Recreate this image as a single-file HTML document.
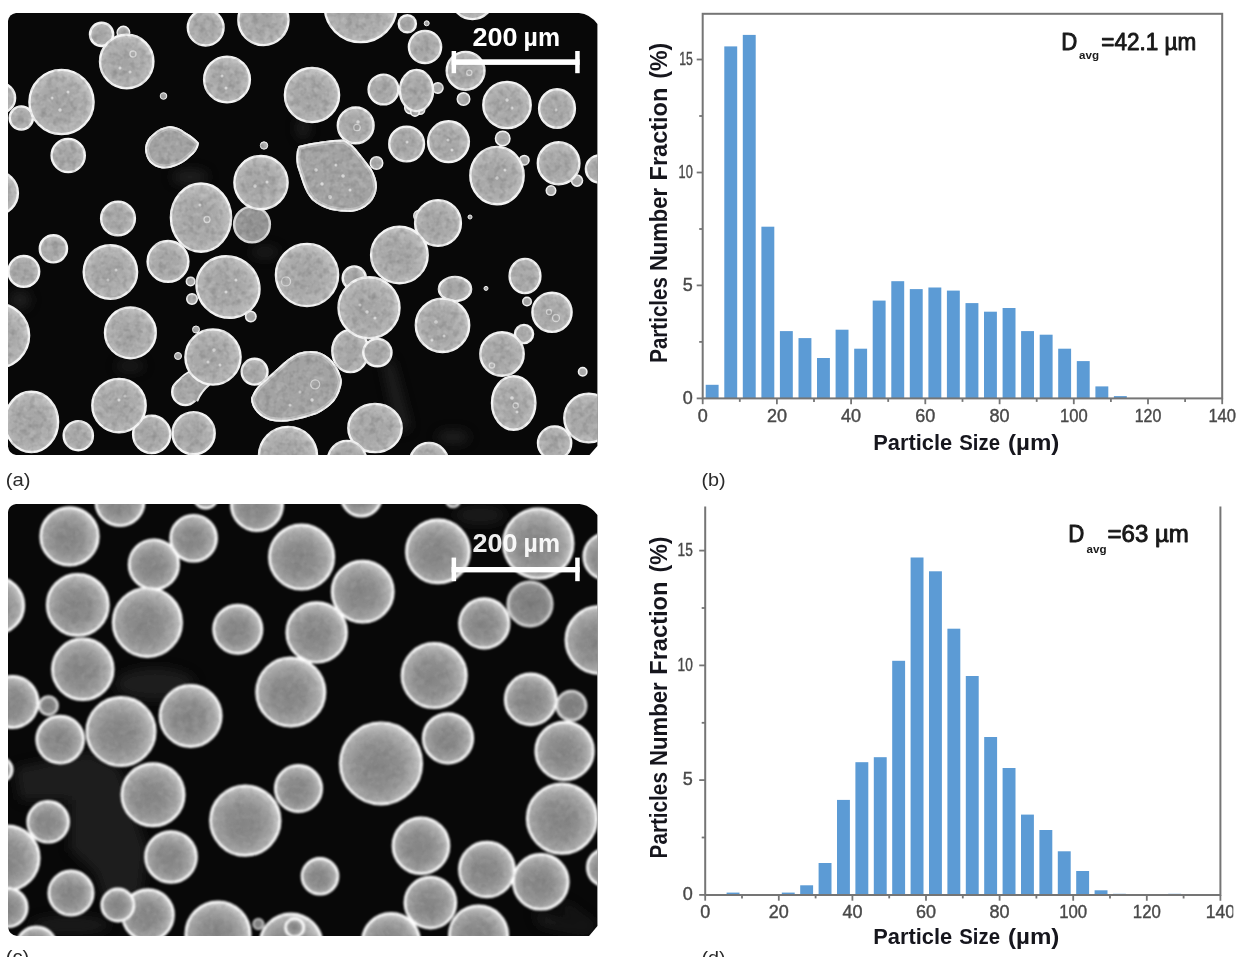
<!DOCTYPE html>
<html lang="en">
<head>
<meta charset="utf-8">
<title>Particle size distribution</title>
<style>
html,body{margin:0;padding:0;background:#fff;}
body{width:1241px;height:957px;overflow:hidden;}
svg{display:block;}
text{font-family:"Liberation Sans",sans-serif;}
.tk{font-size:18px;fill:#484848;stroke:#484848;stroke-width:0.4px;}
.ax{font-size:22.5px;font-weight:700;fill:#15151f;}
.ay{font-size:23px;font-weight:700;fill:#15151f;}
.dv{font-size:23px;fill:#1a1a1a;stroke:#1a1a1a;stroke-width:0.9px;stroke-linejoin:round;}
.sub{font-size:10.5px;font-weight:700;fill:#1a1a1a;}
.sb{font-size:25px;font-weight:700;fill:#fff;}
.pl{font-size:17.5px;fill:#2a2a2a;}
</style>
</head>
<body>
<svg width="1241" height="957" viewBox="0 0 1241 957">
<defs>
<radialGradient id="ga" cx="0.47" cy="0.53" r="0.56">
<stop offset="0" stop-color="#a3a3a3"/><stop offset="0.55" stop-color="#aaaaaa"/><stop offset="0.82" stop-color="#b9b9b9"/><stop offset="0.93" stop-color="#cccccc"/><stop offset="1" stop-color="#e4e4e4"/>
</radialGradient>
<radialGradient id="gad" cx="0.5" cy="0.5" r="0.55">
<stop offset="0" stop-color="#8e8e8e"/><stop offset="0.8" stop-color="#989898"/><stop offset="1" stop-color="#b4b4b4"/>
</radialGradient>
<radialGradient id="gc" cx="0.46" cy="0.54" r="0.57">
<stop offset="0" stop-color="#848484"/><stop offset="0.45" stop-color="#8e8e8e"/><stop offset="0.75" stop-color="#a8a8a8"/><stop offset="0.9" stop-color="#c6c6c6"/><stop offset="1" stop-color="#ececec"/>
</radialGradient>
<radialGradient id="gcd" cx="0.5" cy="0.5" r="0.55">
<stop offset="0" stop-color="#7c7c7c"/><stop offset="0.7" stop-color="#888888"/><stop offset="1" stop-color="#b0b0b0"/>
</radialGradient>
<clipPath id="ca"><path d="M8,21 Q9,14 16,13 H579 Q590,14 597.4,24 V446 L589.5,455 H16 Q9,454 8,446.5 Z"/></clipPath>
<clipPath id="cc"><path d="M8,512 Q9,505 16,504 H579.5 Q590,505 597.4,515 V926 L589,936 H17 Q9,935 8,927 Z"/></clipPath>
<clipPath id="cp"><rect x="0" y="0" width="1233.3" height="957"/></clipPath>
<filter id="bl" x="-2%" y="-2%" width="104%" height="104%" color-interpolation-filters="sRGB"><feGaussianBlur in="SourceGraphic" stdDeviation="0.75" result="b"/><feTurbulence type="fractalNoise" baseFrequency="0.17" numOctaves="2" seed="7" result="t"/><feColorMatrix in="t" type="matrix" values="0 0 0 0 1  0 0 0 0 1  0 0 0 0 1  0.4 0 0 0 -0.18" result="nw"/><feComposite in="nw" in2="b" operator="in" result="nwi"/><feColorMatrix in="t" type="matrix" values="0 0 0 0 0.15  0 0 0 0 0.15  0 0 0 0 0.15  0 0.4 0 0 -0.18" result="nd"/><feComposite in="nd" in2="b" operator="in" result="ndi"/><feMerge><feMergeNode in="b"/><feMergeNode in="nwi"/><feMergeNode in="ndi"/></feMerge></filter>
<filter id="blc" x="-2%" y="-2%" width="104%" height="104%" color-interpolation-filters="sRGB"><feGaussianBlur in="SourceGraphic" stdDeviation="0.85" result="b"/><feTurbulence type="fractalNoise" baseFrequency="0.14" numOctaves="2" seed="11" result="t"/><feColorMatrix in="t" type="matrix" values="0 0 0 0 1  0 0 0 0 1  0 0 0 0 1  0.2 0 0 0 -0.09" result="nw"/><feComposite in="nw" in2="b" operator="in" result="nwi"/><feColorMatrix in="t" type="matrix" values="0 0 0 0 0.15  0 0 0 0 0.15  0 0 0 0 0.15  0 0.2 0 0 -0.09" result="nd"/><feComposite in="nd" in2="b" operator="in" result="ndi"/><feMerge><feMergeNode in="b"/><feMergeNode in="nwi"/><feMergeNode in="ndi"/></feMerge></filter>
<filter id="bl2" x="-5%" y="-20%" width="110%" height="140%"><feGaussianBlur stdDeviation="0.5"/></filter>
<filter id="hz" x="-10%" y="-10%" width="120%" height="120%"><feGaussianBlur stdDeviation="6"/></filter>
<filter id="bl3" x="-2%" y="-2%" width="104%" height="104%"><feGaussianBlur stdDeviation="0.45"/></filter>
</defs>
<rect width="1241" height="957" fill="#fff"/>
<g clip-path="url(#ca)"><rect x="0" y="0" width="620" height="470" fill="#080808"/>
<g filter="url(#hz)" fill="#2a2a2a" opacity="0.8"><path d="M383,362 L392,360 L410,428 L398,432 Z"/><ellipse cx="453" cy="437" rx="16" ry="6"/><ellipse cx="20" cy="300" rx="10" ry="9"/><ellipse cx="190" cy="177" rx="18" ry="7"/><ellipse cx="303" cy="128" rx="6" ry="11"/><ellipse cx="265" cy="252" rx="14" ry="5"/><ellipse cx="130" cy="366" rx="14" ry="5"/></g>
<g filter="url(#bl)">
<circle cx="252" cy="224.5" r="17.9" fill="url(#gad)" stroke="#d8d8d8" stroke-width="2.4"/>
<circle cx="101.6" cy="34.4" r="11.6" fill="url(#ga)" stroke="#f4f4f4" stroke-width="2.4"/>
<circle cx="123.4" cy="32.6" r="6.25" fill="url(#ga)" stroke="#f4f4f4" stroke-width="1.5"/>
<circle cx="126.7" cy="61.5" r="26.7" fill="url(#ga)" stroke="#f4f4f4" stroke-width="2.4"/>
<circle cx="205.7" cy="27.6" r="17.9" fill="url(#ga)" stroke="#f4f4f4" stroke-width="2.4"/>
<circle cx="263.4" cy="20" r="25.1" fill="url(#ga)" stroke="#f4f4f4" stroke-width="2.4"/>
<circle cx="0" cy="98" r="15.1" fill="url(#ga)" stroke="#f4f4f4" stroke-width="2.4"/>
<circle cx="21.3" cy="118" r="11.6" fill="url(#ga)" stroke="#f4f4f4" stroke-width="2.4"/>
<circle cx="61.5" cy="102" r="32.1" fill="url(#ga)" stroke="#f4f4f4" stroke-width="2.4"/>
<circle cx="227" cy="79.5" r="22.9" fill="url(#ga)" stroke="#f4f4f4" stroke-width="2.4"/>
<circle cx="163.5" cy="96" r="3.3" fill="url(#ga)" stroke="#f4f4f4" stroke-width="1"/>
<circle cx="312" cy="95" r="27.1" fill="url(#ga)" stroke="#f4f4f4" stroke-width="2.4"/>
<circle cx="68.2" cy="155.5" r="16.6" fill="url(#ga)" stroke="#f4f4f4" stroke-width="2.4"/>
<circle cx="264" cy="145.5" r="3.7" fill="url(#ga)" stroke="#f4f4f4" stroke-width="1"/>
<circle cx="261" cy="182.6" r="26.6" fill="url(#ga)" stroke="#f4f4f4" stroke-width="2.4"/>
<circle cx="118" cy="218.5" r="16.9" fill="url(#ga)" stroke="#f4f4f4" stroke-width="2.4"/>
<ellipse cx="201" cy="217.6" rx="30.1" ry="34.1" fill="url(#ga)" stroke="#f4f4f4" stroke-width="2.4"/>
<circle cx="-3.8" cy="193" r="21.7" fill="url(#ga)" stroke="#f4f4f4" stroke-width="2.4"/>
<circle cx="360.7" cy="6" r="36.1" fill="url(#ga)" stroke="#f4f4f4" stroke-width="2.4"/>
<circle cx="407.3" cy="23.8" r="8.6" fill="url(#ga)" stroke="#f4f4f4" stroke-width="2.4"/>
<circle cx="426.7" cy="23.3" r="2.5" fill="url(#ga)" stroke="#f4f4f4" stroke-width="1"/>
<circle cx="472.5" cy="-2" r="21.1" fill="url(#ga)" stroke="#f4f4f4" stroke-width="2.4"/>
<circle cx="425" cy="47" r="16.1" fill="url(#ga)" stroke="#f4f4f4" stroke-width="2.4"/>
<circle cx="465.6" cy="70.8" r="18.9" fill="url(#ga)" stroke="#f4f4f4" stroke-width="2.4"/>
<circle cx="463.5" cy="99" r="6.25" fill="url(#ga)" stroke="#f4f4f4" stroke-width="1.5"/>
<circle cx="383.5" cy="89.5" r="14.9" fill="url(#ga)" stroke="#f4f4f4" stroke-width="2.4"/>
<circle cx="410.5" cy="108" r="5.75" fill="url(#ga)" stroke="#f4f4f4" stroke-width="1.5"/>
<circle cx="420" cy="109.5" r="4.75" fill="url(#ga)" stroke="#f4f4f4" stroke-width="1.5"/>
<circle cx="415" cy="112" r="4.25" fill="url(#ga)" stroke="#f4f4f4" stroke-width="1.5"/>
<circle cx="437.8" cy="88" r="5.25" fill="url(#ga)" stroke="#f4f4f4" stroke-width="1.5"/>
<ellipse cx="416.5" cy="90.5" rx="16.6" ry="20.6" fill="url(#ga)" stroke="#f4f4f4" stroke-width="2.4"/>
<circle cx="355.7" cy="125.4" r="17.9" fill="url(#ga)" stroke="#f4f4f4" stroke-width="2.4"/>
<circle cx="406.6" cy="144" r="17.4" fill="url(#ga)" stroke="#f4f4f4" stroke-width="2.4"/>
<circle cx="448.5" cy="141.7" r="20.4" fill="url(#ga)" stroke="#f4f4f4" stroke-width="2.4"/>
<ellipse cx="507" cy="105" rx="23.7" ry="23.1" fill="url(#ga)" stroke="#f4f4f4" stroke-width="2.4"/>
<ellipse cx="557" cy="108.5" rx="17.9" ry="19.3" fill="url(#ga)" stroke="#f4f4f4" stroke-width="2.4"/>
<circle cx="502.7" cy="138.5" r="7.25" fill="url(#ga)" stroke="#f4f4f4" stroke-width="1.5"/>
<circle cx="524.3" cy="160.2" r="4.75" fill="url(#ga)" stroke="#f4f4f4" stroke-width="1.5"/>
<ellipse cx="497" cy="175.6" rx="26.7" ry="28.7" fill="url(#ga)" stroke="#f4f4f4" stroke-width="2.4"/>
<circle cx="577" cy="180.6" r="5.55" fill="url(#ga)" stroke="#f4f4f4" stroke-width="1.5"/>
<circle cx="551" cy="190.6" r="4.75" fill="url(#ga)" stroke="#f4f4f4" stroke-width="1.5"/>
<ellipse cx="558.6" cy="163.3" rx="20.8" ry="21" fill="url(#ga)" stroke="#f4f4f4" stroke-width="2.4"/>
<circle cx="599.5" cy="169" r="13.6" fill="url(#ga)" stroke="#f4f4f4" stroke-width="2.4"/>
<circle cx="376.5" cy="163" r="6.25" fill="url(#ga)" stroke="#f4f4f4" stroke-width="1.5"/>
<circle cx="419" cy="215.7" r="5.25" fill="url(#ga)" stroke="#f4f4f4" stroke-width="1.5"/>
<circle cx="438" cy="223" r="22.9" fill="url(#ga)" stroke="#f4f4f4" stroke-width="2.4"/>
<circle cx="470" cy="217" r="2" fill="url(#ga)" stroke="#f4f4f4" stroke-width="1"/>
<circle cx="53.4" cy="248.8" r="13.6" fill="url(#ga)" stroke="#f4f4f4" stroke-width="2.4"/>
<circle cx="23.8" cy="271.4" r="15.4" fill="url(#ga)" stroke="#f4f4f4" stroke-width="2.4"/>
<circle cx="110.4" cy="272" r="26.7" fill="url(#ga)" stroke="#f4f4f4" stroke-width="2.4"/>
<circle cx="168" cy="261.4" r="20.4" fill="url(#ga)" stroke="#f4f4f4" stroke-width="2.4"/>
<circle cx="192" cy="299" r="5.25" fill="url(#ga)" stroke="#f4f4f4" stroke-width="1.5"/>
<circle cx="190.6" cy="281.4" r="4.25" fill="url(#ga)" stroke="#f4f4f4" stroke-width="1.5"/>
<circle cx="250.8" cy="316.5" r="5.25" fill="url(#ga)" stroke="#f4f4f4" stroke-width="1.5"/>
<ellipse cx="228" cy="287" rx="32.1" ry="30.1" fill="url(#ga)" stroke="#f4f4f4" stroke-width="2.4" transform="rotate(35 228 287)"/>
<circle cx="-3" cy="335.6" r="32.1" fill="url(#ga)" stroke="#f4f4f4" stroke-width="2.4"/>
<circle cx="130.4" cy="332.8" r="25.4" fill="url(#ga)" stroke="#f4f4f4" stroke-width="2.4"/>
<circle cx="185.3" cy="392" r="13.1" fill="url(#ga)" stroke="#f4f4f4" stroke-width="2.4"/>
<path d="M189,372 L173.5,386 L196,401.5 L209,384 Z" fill="#a8a8a8"/><path d="M189.5,371.5 Q180,377 173.2,386.5 M197.5,400.5 Q201,392 209.5,384.5" fill="none" stroke="#f0f0f0" stroke-width="2" stroke-linecap="round"/>
<circle cx="196" cy="329.5" r="3.5" fill="url(#ga)" stroke="#f4f4f4" stroke-width="1"/>
<circle cx="178" cy="356" r="3.5" fill="url(#ga)" stroke="#f4f4f4" stroke-width="1"/>
<circle cx="213" cy="357" r="27.6" fill="url(#ga)" stroke="#f4f4f4" stroke-width="2.4"/>
<circle cx="254.6" cy="371.7" r="12.9" fill="url(#ga)" stroke="#f4f4f4" stroke-width="2.4"/>
<ellipse cx="31.4" cy="421.9" rx="26.7" ry="30.1" fill="url(#ga)" stroke="#f4f4f4" stroke-width="2.4"/>
<circle cx="151.7" cy="434.4" r="18.6" fill="url(#ga)" stroke="#f4f4f4" stroke-width="2.4"/>
<circle cx="119" cy="405.6" r="26.7" fill="url(#ga)" stroke="#f4f4f4" stroke-width="2.4"/>
<circle cx="78.3" cy="435.7" r="14.6" fill="url(#ga)" stroke="#f4f4f4" stroke-width="2.4"/>
<circle cx="193.6" cy="433.2" r="21.1" fill="url(#ga)" stroke="#f4f4f4" stroke-width="2.4"/>
<circle cx="288" cy="456" r="29.1" fill="url(#ga)" stroke="#f4f4f4" stroke-width="2.4"/>
<circle cx="354.3" cy="278" r="11.6" fill="url(#ga)" stroke="#f4f4f4" stroke-width="2.4"/>
<circle cx="307" cy="275" r="31.1" fill="url(#ga)" stroke="#f4f4f4" stroke-width="2.4"/>
<circle cx="399.4" cy="255" r="28.3" fill="url(#ga)" stroke="#f4f4f4" stroke-width="2.4"/>
<ellipse cx="350.4" cy="351" rx="18.1" ry="21.1" fill="url(#ga)" stroke="#f4f4f4" stroke-width="2.4"/>
<circle cx="369" cy="307.8" r="30.5" fill="url(#ga)" stroke="#f4f4f4" stroke-width="2.4"/>
<ellipse cx="377.4" cy="352.6" rx="14.1" ry="13.7" fill="url(#ga)" stroke="#f4f4f4" stroke-width="2.4"/>
<ellipse cx="455" cy="289" rx="16.1" ry="12.1" fill="url(#ga)" stroke="#f4f4f4" stroke-width="2.4"/>
<circle cx="442.5" cy="325.3" r="26.7" fill="url(#ga)" stroke="#f4f4f4" stroke-width="2.4"/>
<circle cx="486" cy="288.4" r="2" fill="url(#ga)" stroke="#f4f4f4" stroke-width="1"/>
<ellipse cx="525" cy="276" rx="15.4" ry="17.1" fill="url(#ga)" stroke="#f4f4f4" stroke-width="2.4"/>
<circle cx="527" cy="301.5" r="4.25" fill="url(#ga)" stroke="#f4f4f4" stroke-width="1.5"/>
<circle cx="552" cy="312.3" r="19.6" fill="url(#ga)" stroke="#f4f4f4" stroke-width="2.4"/>
<circle cx="524" cy="334" r="9.1" fill="url(#ga)" stroke="#f4f4f4" stroke-width="2.4"/>
<circle cx="502" cy="354" r="21.7" fill="url(#ga)" stroke="#f4f4f4" stroke-width="2.4"/>
<circle cx="582.7" cy="371.7" r="4.25" fill="url(#ga)" stroke="#f4f4f4" stroke-width="1.5"/>
<ellipse cx="513.7" cy="403" rx="21.7" ry="26.7" fill="url(#ga)" stroke="#f4f4f4" stroke-width="2.4"/>
<ellipse cx="375" cy="428" rx="26.7" ry="24.1" fill="url(#ga)" stroke="#f4f4f4" stroke-width="2.4"/>
<circle cx="347" cy="460" r="19.1" fill="url(#ga)" stroke="#f4f4f4" stroke-width="2.4"/>
<circle cx="429" cy="462" r="19.1" fill="url(#ga)" stroke="#f4f4f4" stroke-width="2.4"/>
<circle cx="554.6" cy="443" r="16.6" fill="url(#ga)" stroke="#f4f4f4" stroke-width="2.4"/>
<circle cx="588.7" cy="418" r="24.4" fill="url(#ga)" stroke="#f4f4f4" stroke-width="2.4"/>
<clipPath id="bp0"><path d="M298.5,146 Q322,140 344,139.5 Q352,143 360.5,154.5 L371,168 Q377,178 377,187 Q376,197 370,203 Q362,211 351,212 Q340,212 331,210 Q320,207 312,200 Q306,193 303,184 L297,166 Q295,153 298.5,146 Z"/></clipPath>
<g clip-path="url(#bp0)"><path d="M298.5,146 Q322,140 344,139.5 Q352,143 360.5,154.5 L371,168 Q377,178 377,187 Q376,197 370,203 Q362,211 351,212 Q340,212 331,210 Q320,207 312,200 Q306,193 303,184 L297,166 Q295,153 298.5,146 Z" fill="#a3a3a3"/>
<path d="M298.5,146 Q322,140 344,139.5 Q352,143 360.5,154.5 L371,168 Q377,178 377,187 Q376,197 370,203 Q362,211 351,212 Q340,212 331,210 Q320,207 312,200 Q306,193 303,184 L297,166 Q295,153 298.5,146 Z" fill="none" stroke="#bebebe" stroke-width="8" stroke-linejoin="round"/>
<path d="M298.5,146 Q322,140 344,139.5 Q352,143 360.5,154.5 L371,168 Q377,178 377,187 Q376,197 370,203 Q362,211 351,212 Q340,212 331,210 Q320,207 312,200 Q306,193 303,184 L297,166 Q295,153 298.5,146 Z" fill="none" stroke="#f4f4f4" stroke-width="3.8" stroke-linejoin="round"/></g>
<clipPath id="bp1"><path d="M145,148 Q146,139 153,134 Q160,127 170,126 Q179,127 185,132 Q194,137 199,143 Q198,151 190,157 Q184,163 176,166 Q169,169 162,168.5 Q154,167 149.5,162 Q145,156 145,148 Z"/></clipPath>
<g clip-path="url(#bp1)"><path d="M145,148 Q146,139 153,134 Q160,127 170,126 Q179,127 185,132 Q194,137 199,143 Q198,151 190,157 Q184,163 176,166 Q169,169 162,168.5 Q154,167 149.5,162 Q145,156 145,148 Z" fill="#a3a3a3"/>
<path d="M145,148 Q146,139 153,134 Q160,127 170,126 Q179,127 185,132 Q194,137 199,143 Q198,151 190,157 Q184,163 176,166 Q169,169 162,168.5 Q154,167 149.5,162 Q145,156 145,148 Z" fill="none" stroke="#bebebe" stroke-width="8" stroke-linejoin="round"/>
<path d="M145,148 Q146,139 153,134 Q160,127 170,126 Q179,127 185,132 Q194,137 199,143 Q198,151 190,157 Q184,163 176,166 Q169,169 162,168.5 Q154,167 149.5,162 Q145,156 145,148 Z" fill="none" stroke="#f4f4f4" stroke-width="3.8" stroke-linejoin="round"/></g>
<clipPath id="bp2"><path d="M251,398 Q254,390 260,384 L279,367 Q288,358 298,353 Q307,350 317,351.5 Q326,354 332.5,361 Q340,370 342,381 Q341,392 334,401.5 Q327,409 317,414 Q306,418 293,420.5 Q281,423 270,420.5 Q262,418 257,412.5 Q251,406 251,398 Z"/></clipPath>
<g clip-path="url(#bp2)"><path d="M251,398 Q254,390 260,384 L279,367 Q288,358 298,353 Q307,350 317,351.5 Q326,354 332.5,361 Q340,370 342,381 Q341,392 334,401.5 Q327,409 317,414 Q306,418 293,420.5 Q281,423 270,420.5 Q262,418 257,412.5 Q251,406 251,398 Z" fill="#a3a3a3"/>
<path d="M251,398 Q254,390 260,384 L279,367 Q288,358 298,353 Q307,350 317,351.5 Q326,354 332.5,361 Q340,370 342,381 Q341,392 334,401.5 Q327,409 317,414 Q306,418 293,420.5 Q281,423 270,420.5 Q262,418 257,412.5 Q251,406 251,398 Z" fill="none" stroke="#bebebe" stroke-width="8" stroke-linejoin="round"/>
<path d="M251,398 Q254,390 260,384 L279,367 Q288,358 298,353 Q307,350 317,351.5 Q326,354 332.5,361 Q340,370 342,381 Q341,392 334,401.5 Q327,409 317,414 Q306,418 293,420.5 Q281,423 270,420.5 Q262,418 257,412.5 Q251,406 251,398 Z" fill="none" stroke="#f4f4f4" stroke-width="3.8" stroke-linejoin="round"/></g>
<g fill="none" stroke="#d6d6d6" stroke-width="1.3"><circle cx="315.2" cy="384.3" r="4.5"/><circle cx="286" cy="281.4" r="4.5"/><circle cx="357" cy="127.5" r="3.2"/><circle cx="133" cy="54" r="3"/><circle cx="207" cy="219.5" r="3"/><circle cx="491.9" cy="365.4" r="2.6"/><circle cx="515.7" cy="405.6" r="2.6"/><circle cx="469.3" cy="72.7" r="2.6"/><circle cx="556" cy="318" r="3.5"/><circle cx="549" cy="312" r="2.5"/></g>
<g fill="#e4e4e4" opacity="0.8"><circle cx="60" cy="110" r="1.7"/><circle cx="68" cy="92" r="1.5"/><circle cx="52" cy="98" r="1.5"/><circle cx="120" cy="68" r="1.5"/><circle cx="130" cy="72" r="1.5"/><circle cx="226" cy="88" r="1.5"/><circle cx="222" cy="76" r="1.5"/><circle cx="255" cy="186" r="1.7"/><circle cx="267" cy="182" r="1.5"/><circle cx="200" cy="205" r="1.5"/><circle cx="316" cy="170" r="1.8"/><circle cx="322" cy="184" r="1.7"/><circle cx="330" cy="197" r="1.9"/><circle cx="343" cy="176" r="1.8"/><circle cx="336" cy="165" r="1.5"/><circle cx="350" cy="190" r="1.5"/><circle cx="108" cy="280" r="1.5"/><circle cx="116" cy="270" r="1.5"/><circle cx="226" cy="292" r="1.5"/><circle cx="236" cy="280" r="1.5"/><circle cx="214" cy="350" r="1.7"/><circle cx="220" cy="365" r="1.5"/><circle cx="208" cy="362" r="1.5"/><circle cx="300" cy="392" r="1.5"/><circle cx="312" cy="400" r="1.7"/><circle cx="290" cy="405" r="1.5"/><circle cx="367" cy="312" r="1.7"/><circle cx="375" cy="318" r="1.5"/><circle cx="360" cy="305" r="1.5"/><circle cx="436" cy="322" r="1.8"/><circle cx="444" cy="336" r="1.5"/><circle cx="432" cy="340" r="1.5"/><circle cx="497" cy="178" r="1.7"/><circle cx="505" cy="170" r="1.5"/><circle cx="512" cy="398" r="1.8"/><circle cx="517" cy="412" r="1.5"/><circle cx="507" cy="100" r="1.7"/><circle cx="512" cy="108" r="1.5"/><circle cx="556" cy="110" r="1.5"/><circle cx="448" cy="140" r="1.5"/><circle cx="452" cy="150" r="1.5"/><circle cx="407" cy="142" r="1.5"/><circle cx="358" cy="122" r="1.7"/><circle cx="119" cy="400" r="1.5"/><circle cx="125" cy="396" r="1.5"/><circle cx="470" cy="292" r="1.5"/></g>
</g>
<g fill="#fff" filter="url(#bl2)"><rect x="451.6" y="59.3" width="128" height="5.6"/><rect x="451.6" y="51" width="4.5" height="22.2"/><rect x="575.2" y="51" width="4.5" height="22.2"/></g>
<g filter="url(#bl2)"><text class="sb" x="472.6" y="45.6" textLength="45" lengthAdjust="spacingAndGlyphs">200</text><text class="sb" x="523.6" y="45.6" textLength="36.4" lengthAdjust="spacingAndGlyphs">µm</text></g>
</g>
<g clip-path="url(#cc)"><rect x="0" y="495" width="620" height="462" fill="#080808"/>
<g filter="url(#hz)" fill="#242424" opacity="0.85"><path d="M15,768 L90,752 L120,768 L147,850 L142,894 L105,902 L95,872 L70,850 L70,800 L20,800 Z"/><ellipse cx="155" cy="684" rx="40" ry="16"/><path d="M533,910 L590,930 L590,936 L540,925 Z"/><path d="M565,902 L597,925 L597,932 L560,908 Z"/><ellipse cx="70" cy="925" rx="40" ry="8"/><ellipse cx="480" cy="515" rx="25" ry="8"/></g>
<g filter="url(#blc)">
<circle cx="148" cy="915" r="25.45" fill="url(#gc)" stroke="#ffffff" stroke-width="2.7"/>
<circle cx="540.8" cy="881.8" r="27.45" fill="url(#gc)" stroke="#ffffff" stroke-width="2.7"/>
<circle cx="530" cy="604" r="22.15" fill="url(#gcd)" stroke="#d8d8d8" stroke-width="2.7"/>
<circle cx="571.4" cy="705.7" r="14.65" fill="url(#gcd)" stroke="#d8d8d8" stroke-width="2.7"/>
<circle cx="48.4" cy="705.7" r="9.15" fill="url(#gcd)" stroke="#d8d8d8" stroke-width="2.7"/>
<circle cx="258.4" cy="924" r="5.25" fill="url(#gcd)" stroke="#d8d8d8" stroke-width="1.5"/>
<circle cx="69.5" cy="536.4" r="28.75" fill="url(#gc)" stroke="#ffffff" stroke-width="2.7"/>
<circle cx="120" cy="501.4" r="24.15" fill="url(#gc)" stroke="#ffffff" stroke-width="2.7"/>
<circle cx="205.7" cy="496" r="12.15" fill="url(#gc)" stroke="#ffffff" stroke-width="2.7"/>
<circle cx="257" cy="505" r="25.55" fill="url(#gc)" stroke="#ffffff" stroke-width="2.7"/>
<circle cx="193.6" cy="538.2" r="22.95" fill="url(#gc)" stroke="#ffffff" stroke-width="2.7"/>
<circle cx="153.9" cy="564.5" r="24.75" fill="url(#gc)" stroke="#ffffff" stroke-width="2.7"/>
<circle cx="301.6" cy="557" r="32.15" fill="url(#gc)" stroke="#ffffff" stroke-width="2.7"/>
<circle cx="77.8" cy="604.9" r="30.55" fill="url(#gc)" stroke="#ffffff" stroke-width="2.7"/>
<circle cx="147.4" cy="622.4" r="34.15" fill="url(#gc)" stroke="#ffffff" stroke-width="2.7"/>
<circle cx="-4.4" cy="605.4" r="28.15" fill="url(#gc)" stroke="#ffffff" stroke-width="2.7"/>
<circle cx="237.8" cy="629.2" r="24.15" fill="url(#gc)" stroke="#ffffff" stroke-width="2.7"/>
<circle cx="316.7" cy="632.4" r="29.85" fill="url(#gc)" stroke="#ffffff" stroke-width="2.7"/>
<circle cx="82.8" cy="669.3" r="30.35" fill="url(#gc)" stroke="#ffffff" stroke-width="2.7"/>
<circle cx="12.5" cy="702" r="25.55" fill="url(#gc)" stroke="#ffffff" stroke-width="2.7"/>
<circle cx="121" cy="731.5" r="34.15" fill="url(#gc)" stroke="#ffffff" stroke-width="2.7"/>
<circle cx="190.6" cy="716" r="30.55" fill="url(#gc)" stroke="#ffffff" stroke-width="2.7"/>
<circle cx="290.8" cy="692" r="34.15" fill="url(#gc)" stroke="#ffffff" stroke-width="2.7"/>
<circle cx="60.2" cy="739.6" r="23.45" fill="url(#gc)" stroke="#ffffff" stroke-width="2.7"/>
<circle cx="361.4" cy="496" r="20.15" fill="url(#gc)" stroke="#ffffff" stroke-width="2.7"/>
<circle cx="453" cy="500" r="7.25" fill="url(#gc)" stroke="#ffffff" stroke-width="1.5"/>
<circle cx="362.7" cy="591.6" r="30.55" fill="url(#gc)" stroke="#ffffff" stroke-width="2.7"/>
<circle cx="438" cy="551.4" r="31.55" fill="url(#gc)" stroke="#ffffff" stroke-width="2.7"/>
<circle cx="538.3" cy="543.5" r="34.75" fill="url(#gc)" stroke="#ffffff" stroke-width="2.7"/>
<circle cx="607" cy="556.5" r="23.15" fill="url(#gc)" stroke="#ffffff" stroke-width="2.7"/>
<circle cx="484.3" cy="623.4" r="24.75" fill="url(#gc)" stroke="#ffffff" stroke-width="2.7"/>
<circle cx="599.6" cy="640" r="33.65" fill="url(#gc)" stroke="#ffffff" stroke-width="2.7"/>
<circle cx="434.2" cy="675.6" r="32.15" fill="url(#gc)" stroke="#ffffff" stroke-width="2.7"/>
<circle cx="530.7" cy="699.4" r="25.45" fill="url(#gc)" stroke="#ffffff" stroke-width="2.7"/>
<circle cx="153" cy="794.8" r="31.15" fill="url(#gc)" stroke="#ffffff" stroke-width="2.7"/>
<circle cx="245.3" cy="820.6" r="34.75" fill="url(#gc)" stroke="#ffffff" stroke-width="2.7"/>
<circle cx="298.5" cy="788.5" r="23.15" fill="url(#gc)" stroke="#ffffff" stroke-width="2.7"/>
<circle cx="48.2" cy="821.8" r="20.45" fill="url(#gc)" stroke="#ffffff" stroke-width="2.7"/>
<circle cx="7" cy="858" r="32.15" fill="url(#gc)" stroke="#ffffff" stroke-width="2.7"/>
<circle cx="171" cy="857" r="25.45" fill="url(#gc)" stroke="#ffffff" stroke-width="2.7"/>
<circle cx="71" cy="893" r="22.15" fill="url(#gc)" stroke="#ffffff" stroke-width="2.7"/>
<circle cx="117.9" cy="905" r="16.15" fill="url(#gc)" stroke="#ffffff" stroke-width="2.7"/>
<circle cx="8" cy="907.6" r="19.15" fill="url(#gc)" stroke="#ffffff" stroke-width="2.7"/>
<circle cx="218" cy="934" r="32.15" fill="url(#gc)" stroke="#ffffff" stroke-width="2.7"/>
<circle cx="291" cy="945" r="31.15" fill="url(#gc)" stroke="#ffffff" stroke-width="2.7"/>
<circle cx="294.7" cy="927.7" r="9.15" fill="url(#gc)" stroke="#ffffff" stroke-width="2.7"/>
<circle cx="36.4" cy="947" r="20.15" fill="url(#gc)" stroke="#ffffff" stroke-width="2.7"/>
<circle cx="0" cy="769.7" r="12.15" fill="url(#gc)" stroke="#ffffff" stroke-width="2.7"/>
<circle cx="381" cy="763.4" r="40.65" fill="url(#gc)" stroke="#ffffff" stroke-width="2.7"/>
<circle cx="448" cy="738.3" r="24.75" fill="url(#gc)" stroke="#ffffff" stroke-width="2.7"/>
<circle cx="564.6" cy="750.9" r="28.75" fill="url(#gc)" stroke="#ffffff" stroke-width="2.7"/>
<circle cx="562" cy="818.6" r="34.75" fill="url(#gc)" stroke="#ffffff" stroke-width="2.7"/>
<circle cx="421" cy="845.7" r="27.95" fill="url(#gc)" stroke="#ffffff" stroke-width="2.7"/>
<circle cx="320" cy="876.3" r="17.95" fill="url(#gc)" stroke="#ffffff" stroke-width="2.7"/>
<circle cx="486.9" cy="869.5" r="27.45" fill="url(#gc)" stroke="#ffffff" stroke-width="2.7"/>
<circle cx="606" cy="867.5" r="18.65" fill="url(#gc)" stroke="#ffffff" stroke-width="2.7"/>
<circle cx="430.4" cy="902.6" r="25.45" fill="url(#gc)" stroke="#ffffff" stroke-width="2.7"/>
<circle cx="478.6" cy="935" r="29.15" fill="url(#gc)" stroke="#ffffff" stroke-width="2.7"/>
<circle cx="391" cy="942" r="28.65" fill="url(#gc)" stroke="#ffffff" stroke-width="2.7"/>
</g>
<g fill="#fff" filter="url(#bl2)"><rect x="451.6" y="567" width="128" height="5.4"/><rect x="451.6" y="557.6" width="4.5" height="23.6"/><rect x="575.2" y="557.6" width="4.5" height="23.6"/></g>
<g filter="url(#bl2)" opacity="0.93"><text class="sb" x="472.6" y="551.6" textLength="45" lengthAdjust="spacingAndGlyphs">200</text><text class="sb" x="523.6" y="551.6" textLength="36.4" lengthAdjust="spacingAndGlyphs">µm</text></g>
</g>
<g filter="url(#bl3)">
<rect x="705.7" y="384.8" width="12.9" height="13.6" fill="#5b9bd5"/>
<rect x="724.3" y="46.4" width="12.9" height="352.0" fill="#5b9bd5"/>
<rect x="742.8" y="34.9" width="12.9" height="363.5" fill="#5b9bd5"/>
<rect x="761.4" y="226.7" width="12.9" height="171.7" fill="#5b9bd5"/>
<rect x="779.9" y="331.1" width="12.9" height="67.3" fill="#5b9bd5"/>
<rect x="798.5" y="338.1" width="12.9" height="60.3" fill="#5b9bd5"/>
<rect x="817.0" y="358.0" width="12.9" height="40.4" fill="#5b9bd5"/>
<rect x="835.6" y="329.7" width="12.9" height="68.7" fill="#5b9bd5"/>
<rect x="854.2" y="348.7" width="12.9" height="49.7" fill="#5b9bd5"/>
<rect x="872.7" y="300.6" width="12.9" height="97.8" fill="#5b9bd5"/>
<rect x="891.3" y="281.2" width="12.9" height="117.2" fill="#5b9bd5"/>
<rect x="909.8" y="289.1" width="12.9" height="109.3" fill="#5b9bd5"/>
<rect x="928.4" y="287.5" width="12.9" height="110.9" fill="#5b9bd5"/>
<rect x="946.9" y="290.6" width="12.9" height="107.8" fill="#5b9bd5"/>
<rect x="965.5" y="303.1" width="12.9" height="95.3" fill="#5b9bd5"/>
<rect x="984.0" y="311.7" width="12.9" height="86.7" fill="#5b9bd5"/>
<rect x="1002.6" y="308.0" width="12.9" height="90.4" fill="#5b9bd5"/>
<rect x="1021.1" y="331.1" width="12.9" height="67.3" fill="#5b9bd5"/>
<rect x="1039.7" y="334.7" width="12.9" height="63.7" fill="#5b9bd5"/>
<rect x="1058.2" y="348.7" width="12.9" height="49.7" fill="#5b9bd5"/>
<rect x="1076.8" y="361.1" width="12.9" height="37.3" fill="#5b9bd5"/>
<rect x="1095.4" y="386.4" width="12.9" height="12.0" fill="#5b9bd5"/>
<rect x="1113.9" y="396.1" width="12.9" height="2.3" fill="#5b9bd5"/>
<rect x="702.7" y="13.8" width="519.5" height="384.6" fill="none" stroke="#757575" stroke-width="2"/>
<line x1="702.7" y1="398.4" x2="702.7" y2="404.2" stroke="#757575" stroke-width="1.8"/>
<line x1="739.8" y1="398.4" x2="739.8" y2="401.9" stroke="#757575" stroke-width="1.8"/>
<line x1="776.9" y1="398.4" x2="776.9" y2="404.2" stroke="#757575" stroke-width="1.8"/>
<line x1="814.0" y1="398.4" x2="814.0" y2="401.9" stroke="#757575" stroke-width="1.8"/>
<line x1="851.1" y1="398.4" x2="851.1" y2="404.2" stroke="#757575" stroke-width="1.8"/>
<line x1="888.2" y1="398.4" x2="888.2" y2="401.9" stroke="#757575" stroke-width="1.8"/>
<line x1="925.3" y1="398.4" x2="925.3" y2="404.2" stroke="#757575" stroke-width="1.8"/>
<line x1="962.5" y1="398.4" x2="962.5" y2="401.9" stroke="#757575" stroke-width="1.8"/>
<line x1="999.6" y1="398.4" x2="999.6" y2="404.2" stroke="#757575" stroke-width="1.8"/>
<line x1="1036.7" y1="398.4" x2="1036.7" y2="401.9" stroke="#757575" stroke-width="1.8"/>
<line x1="1073.8" y1="398.4" x2="1073.8" y2="404.2" stroke="#757575" stroke-width="1.8"/>
<line x1="1110.9" y1="398.4" x2="1110.9" y2="401.9" stroke="#757575" stroke-width="1.8"/>
<line x1="1148.0" y1="398.4" x2="1148.0" y2="404.2" stroke="#757575" stroke-width="1.8"/>
<line x1="1185.1" y1="398.4" x2="1185.1" y2="401.9" stroke="#757575" stroke-width="1.8"/>
<line x1="1222.2" y1="398.4" x2="1222.2" y2="404.2" stroke="#757575" stroke-width="1.8"/>
<line x1="696.7" y1="398.4" x2="702.7" y2="398.4" stroke="#757575" stroke-width="1.8"/>
<line x1="699.2" y1="341.9" x2="702.7" y2="341.9" stroke="#757575" stroke-width="1.8"/>
<line x1="696.7" y1="285.4" x2="702.7" y2="285.4" stroke="#757575" stroke-width="1.8"/>
<line x1="699.2" y1="229.0" x2="702.7" y2="229.0" stroke="#757575" stroke-width="1.8"/>
<line x1="696.7" y1="172.5" x2="702.7" y2="172.5" stroke="#757575" stroke-width="1.8"/>
<line x1="699.2" y1="116.0" x2="702.7" y2="116.0" stroke="#757575" stroke-width="1.8"/>
<line x1="696.7" y1="59.5" x2="702.7" y2="59.5" stroke="#757575" stroke-width="1.8"/>
<text class="tk" x="702.7" y="422.0" text-anchor="middle">0</text>
<text class="tk" x="776.9" y="422.0" text-anchor="middle">20</text>
<text class="tk" x="851.1" y="422.0" text-anchor="middle">40</text>
<text class="tk" x="925.3" y="422.0" text-anchor="middle">60</text>
<text class="tk" x="999.6" y="422.0" text-anchor="middle">80</text>
<text class="tk" x="1073.8" y="422.0" text-anchor="middle" textLength="27.6" lengthAdjust="spacingAndGlyphs">100</text>
<text class="tk" x="1148.0" y="422.0" text-anchor="middle" textLength="26.6" lengthAdjust="spacingAndGlyphs">120</text>
<text class="tk" x="1222.2" y="422.0" text-anchor="middle" textLength="27.6" lengthAdjust="spacingAndGlyphs">140</text>
<text class="tk" x="692.8" y="403.9" text-anchor="end">0</text>
<text class="tk" x="692.8" y="290.9" text-anchor="end">5</text>
<text class="tk" x="692.8" y="178.0" text-anchor="end" textLength="14.2" lengthAdjust="spacingAndGlyphs">10</text>
<text class="tk" x="692.8" y="65.0" text-anchor="end" textLength="13.6" lengthAdjust="spacingAndGlyphs">15</text>
<text class="ax" x="873.3" y="449.6" textLength="78.9" lengthAdjust="spacingAndGlyphs">Particle</text>
<text class="ax" x="959.3" y="449.6" textLength="40.7" lengthAdjust="spacingAndGlyphs">Size</text>
<text class="ax" x="1008.0" y="449.6" textLength="51.4" lengthAdjust="spacingAndGlyphs">(µm)</text>
<g transform="translate(666.8 362.8) rotate(-90)">
<text class="ay" x="0.0" y="0" textLength="85.7" lengthAdjust="spacingAndGlyphs">Particles</text>
<text class="ay" x="91.7" y="0" textLength="83.2" lengthAdjust="spacingAndGlyphs">Number</text>
<text class="ay" x="182.4" y="0" textLength="92.7" lengthAdjust="spacingAndGlyphs">Fraction</text>
<text class="ay" x="284.1" y="0" textLength="35.9" lengthAdjust="spacingAndGlyphs">(%)</text>
</g>
<text class="dv" x="1061.3" y="50.3" textLength="16" lengthAdjust="spacingAndGlyphs">D</text>
<text class="sub" x="1079" y="59" textLength="20" lengthAdjust="spacingAndGlyphs">avg</text>
<text class="dv" x="1101.3" y="50.3" textLength="95" lengthAdjust="spacingAndGlyphs">=42.1 µm</text>
<g clip-path="url(#cp)">
<rect x="726.6" y="892.6" width="12.9" height="2.3" fill="#5b9bd5"/>
<rect x="781.8" y="892.6" width="12.9" height="2.3" fill="#5b9bd5"/>
<rect x="800.2" y="885.3" width="12.9" height="9.6" fill="#5b9bd5"/>
<rect x="818.6" y="863.0" width="12.9" height="31.9" fill="#5b9bd5"/>
<rect x="837.0" y="799.9" width="12.9" height="95.0" fill="#5b9bd5"/>
<rect x="855.4" y="762.2" width="12.9" height="132.7" fill="#5b9bd5"/>
<rect x="873.8" y="757.2" width="12.9" height="137.7" fill="#5b9bd5"/>
<rect x="892.2" y="660.8" width="12.9" height="234.1" fill="#5b9bd5"/>
<rect x="910.6" y="557.5" width="12.9" height="337.4" fill="#5b9bd5"/>
<rect x="929.0" y="571.3" width="12.9" height="323.6" fill="#5b9bd5"/>
<rect x="947.4" y="628.7" width="12.9" height="266.2" fill="#5b9bd5"/>
<rect x="965.8" y="676.0" width="12.9" height="218.9" fill="#5b9bd5"/>
<rect x="984.2" y="737.0" width="12.9" height="157.9" fill="#5b9bd5"/>
<rect x="1002.6" y="768.0" width="12.9" height="126.9" fill="#5b9bd5"/>
<rect x="1021.0" y="814.6" width="12.9" height="80.3" fill="#5b9bd5"/>
<rect x="1039.4" y="830.0" width="12.9" height="64.9" fill="#5b9bd5"/>
<rect x="1057.8" y="851.3" width="12.9" height="43.6" fill="#5b9bd5"/>
<rect x="1076.2" y="871.0" width="12.9" height="23.9" fill="#5b9bd5"/>
<rect x="1094.6" y="890.3" width="12.9" height="4.6" fill="#5b9bd5"/>
<rect x="1113.0" y="893.8" width="12.9" height="1.1" fill="#5b9bd5"/>
<rect x="1168.2" y="893.8" width="12.9" height="1.1" fill="#5b9bd5"/>
<path d="M705.2,506.4 V894.9 H1220.4 V506.4" fill="none" stroke="#757575" stroke-width="2"/>
<line x1="705.2" y1="894.9" x2="705.2" y2="900.7" stroke="#757575" stroke-width="1.8"/>
<line x1="742.0" y1="894.9" x2="742.0" y2="898.4" stroke="#757575" stroke-width="1.8"/>
<line x1="778.8" y1="894.9" x2="778.8" y2="900.7" stroke="#757575" stroke-width="1.8"/>
<line x1="815.6" y1="894.9" x2="815.6" y2="898.4" stroke="#757575" stroke-width="1.8"/>
<line x1="852.4" y1="894.9" x2="852.4" y2="900.7" stroke="#757575" stroke-width="1.8"/>
<line x1="889.2" y1="894.9" x2="889.2" y2="898.4" stroke="#757575" stroke-width="1.8"/>
<line x1="926.0" y1="894.9" x2="926.0" y2="900.7" stroke="#757575" stroke-width="1.8"/>
<line x1="962.8" y1="894.9" x2="962.8" y2="898.4" stroke="#757575" stroke-width="1.8"/>
<line x1="999.6" y1="894.9" x2="999.6" y2="900.7" stroke="#757575" stroke-width="1.8"/>
<line x1="1036.4" y1="894.9" x2="1036.4" y2="898.4" stroke="#757575" stroke-width="1.8"/>
<line x1="1073.2" y1="894.9" x2="1073.2" y2="900.7" stroke="#757575" stroke-width="1.8"/>
<line x1="1110.0" y1="894.9" x2="1110.0" y2="898.4" stroke="#757575" stroke-width="1.8"/>
<line x1="1146.8" y1="894.9" x2="1146.8" y2="900.7" stroke="#757575" stroke-width="1.8"/>
<line x1="1183.6" y1="894.9" x2="1183.6" y2="898.4" stroke="#757575" stroke-width="1.8"/>
<line x1="1220.4" y1="894.9" x2="1220.4" y2="900.7" stroke="#757575" stroke-width="1.8"/>
<line x1="699.2" y1="894.9" x2="705.2" y2="894.9" stroke="#757575" stroke-width="1.8"/>
<line x1="701.7" y1="837.5" x2="705.2" y2="837.5" stroke="#757575" stroke-width="1.8"/>
<line x1="699.2" y1="780.1" x2="705.2" y2="780.1" stroke="#757575" stroke-width="1.8"/>
<line x1="701.7" y1="722.8" x2="705.2" y2="722.8" stroke="#757575" stroke-width="1.8"/>
<line x1="699.2" y1="665.4" x2="705.2" y2="665.4" stroke="#757575" stroke-width="1.8"/>
<line x1="701.7" y1="608.0" x2="705.2" y2="608.0" stroke="#757575" stroke-width="1.8"/>
<line x1="699.2" y1="550.6" x2="705.2" y2="550.6" stroke="#757575" stroke-width="1.8"/>
<text class="tk" x="705.2" y="918.2" text-anchor="middle">0</text>
<text class="tk" x="778.8" y="918.2" text-anchor="middle">20</text>
<text class="tk" x="852.4" y="918.2" text-anchor="middle">40</text>
<text class="tk" x="926.0" y="918.2" text-anchor="middle">60</text>
<text class="tk" x="999.6" y="918.2" text-anchor="middle">80</text>
<text class="tk" x="1073.2" y="918.2" text-anchor="middle" textLength="28" lengthAdjust="spacingAndGlyphs">100</text>
<text class="tk" x="1146.8" y="918.2" text-anchor="middle" textLength="28" lengthAdjust="spacingAndGlyphs">120</text>
<text class="tk" x="1220.4" y="918.2" text-anchor="middle" textLength="29.2" lengthAdjust="spacingAndGlyphs">140</text>
<text class="tk" x="692.8" y="900.0" text-anchor="end">0</text>
<text class="tk" x="692.8" y="785.2" text-anchor="end">5</text>
<text class="tk" x="692.8" y="670.5" text-anchor="end" textLength="15.2" lengthAdjust="spacingAndGlyphs">10</text>
<text class="tk" x="692.8" y="555.8" text-anchor="end" textLength="15.2" lengthAdjust="spacingAndGlyphs">15</text>
<text class="ax" x="873.3" y="943.5" textLength="78.9" lengthAdjust="spacingAndGlyphs">Particle</text>
<text class="ax" x="959.3" y="943.5" textLength="40.7" lengthAdjust="spacingAndGlyphs">Size</text>
<text class="ax" x="1008.0" y="943.5" textLength="51.4" lengthAdjust="spacingAndGlyphs">(µm)</text>
<g transform="translate(666.8 858.4) rotate(-90)">
<text class="ay" x="0.0" y="0" textLength="86.3" lengthAdjust="spacingAndGlyphs">Particles</text>
<text class="ay" x="92.3" y="0" textLength="83.8" lengthAdjust="spacingAndGlyphs">Number</text>
<text class="ay" x="183.6" y="0" textLength="93.3" lengthAdjust="spacingAndGlyphs">Fraction</text>
<text class="ay" x="285.9" y="0" textLength="36.1" lengthAdjust="spacingAndGlyphs">(%)</text>
</g>
<text class="dv" x="1068.3" y="541.5" textLength="16" lengthAdjust="spacingAndGlyphs">D</text>
<text class="sub" x="1086.5" y="552.5" textLength="20" lengthAdjust="spacingAndGlyphs">avg</text>
<text class="dv" x="1107.6" y="541.5" textLength="81.3" lengthAdjust="spacingAndGlyphs">=63 µm</text>
</g>
<text class="pl" x="5.8" y="486.2" textLength="24.8" lengthAdjust="spacingAndGlyphs">(a)</text>
<text class="pl" x="701.5" y="486.2" textLength="24.2" lengthAdjust="spacingAndGlyphs">(b)</text>
<text class="pl" x="5.8" y="962.5" textLength="23.5" lengthAdjust="spacingAndGlyphs">(c)</text>
<text class="pl" x="701.5" y="963.5" textLength="24.2" lengthAdjust="spacingAndGlyphs">(d)</text>
</g>
</svg>
</body>
</html>
